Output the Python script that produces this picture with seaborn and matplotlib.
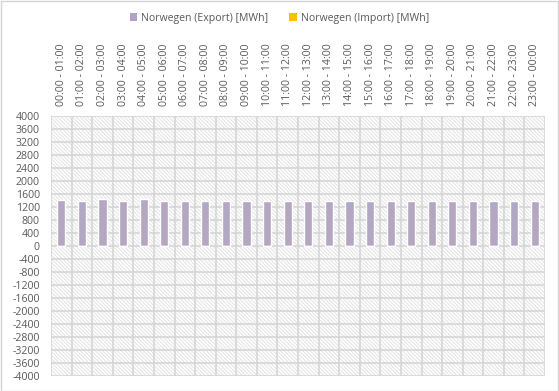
"""Hourly export/import bar chart for Norwegen, Excel-style."""

import pandas as pd
import seaborn as sns
import matplotlib.pyplot as plt
import matplotlib.patches as mpatches

HOURS = [f"{h:02d}:00 - {(h + 1) % 24:02d}:00" for h in range(24)]
EXPORT = [1410, 1370, 1440, 1370, 1440, 1370, 1370, 1370, 1370, 1370, 1370, 1370,
          1370, 1370, 1370, 1370, 1370, 1370, 1370, 1370, 1370, 1370, 1370, 1370]
IMPORT = [0] * 24
SERIES = ["Norwegen (Export) [MWh]", "Norwegen (Import) [MWh]"]
COLORS = ["#b3a2c7", "#ffc000"]
Y_TICKS = list(range(-4000, 4001, 400))

TEXT = "#595959"
GRID = "#d4d4d4"
HATCH = "#e2e2e2"


def plot():
    df = pd.DataFrame({
        "Hour": HOURS * 2,
        "Value": EXPORT + IMPORT,
        "Series": [SERIES[0]] * 24 + [SERIES[1]] * 24,
    })

    sns.set_theme(style="white")
    plt.rcParams.update({
        "font.family": ["Open Sans", "DejaVu Sans"],
        "font.size": 7.6,
        "hatch.color": HATCH,
        "hatch.linewidth": 0.7,
    })

    fig = plt.figure(figsize=(5.59, 3.91), dpi=100)
    ax = fig.add_axes([51 / 559, 1 - 376 / 391, 494 / 559, 260 / 391])

    # hatched plot-area background
    ax.add_patch(mpatches.Rectangle((0, 0), 1, 1, transform=ax.transAxes,
                                    facecolor="white", edgecolor=HATCH,
                                    linewidth=0, hatch="\\" * 9, zorder=0))

    # grid: horizontal at ticks, vertical at category boundaries
    for y in Y_TICKS:
        ax.axhline(y, color=GRID, linewidth=1.1, zorder=2)
    for x in range(25):
        ax.axvline(x - 0.5, color=GRID, linewidth=1.1, zorder=2)

    sns.barplot(data=df, x="Hour", y="Value", hue="Series", hue_order=SERIES,
                order=HOURS, palette=COLORS, dodge=False, width=0.4,
                ax=ax, legend=False, zorder=3)

    ax.set_ylim(-4000, 4000)
    ax.set_xlim(-0.5, 23.5)
    ax.set_yticks(Y_TICKS)
    ax.set_yticklabels([str(v) for v in Y_TICKS], color=TEXT)
    ax.set_xticks(range(24))
    ax.xaxis.tick_top()
    ax.set_xticklabels(HOURS, rotation=90, color=TEXT)
    ax.tick_params(axis="both", length=0, labelsize=7.6)
    ax.tick_params(axis="x", pad=7.5)
    ax.tick_params(axis="y", pad=8)
    ax.set_xlabel("")
    ax.set_ylabel("")
    for s in ax.spines.values():
        s.set_visible(False)

    handles = [mpatches.Patch(facecolor=c, edgecolor="none", label=l)
               for c, l in zip(COLORS, SERIES)]
    fig.legend(handles=handles, loc="center", bbox_to_anchor=(0.5, 1 - 18 / 391),
               ncol=2, frameon=False, fontsize=7.6, labelcolor=TEXT,
               handlelength=0.7, handleheight=0.7, handletextpad=0.4,
               columnspacing=2.0)

    fig.patches.append(mpatches.Rectangle((0.5 / 559, 0.5 / 391), 557.5 / 559, 389.5 / 391,
                                          transform=fig.transFigure, fill=False,
                                          edgecolor=GRID, linewidth=1))

    fig.savefig("out.png", dpi=100)
    plt.close(fig)


if __name__ == "__main__":
    plot()
